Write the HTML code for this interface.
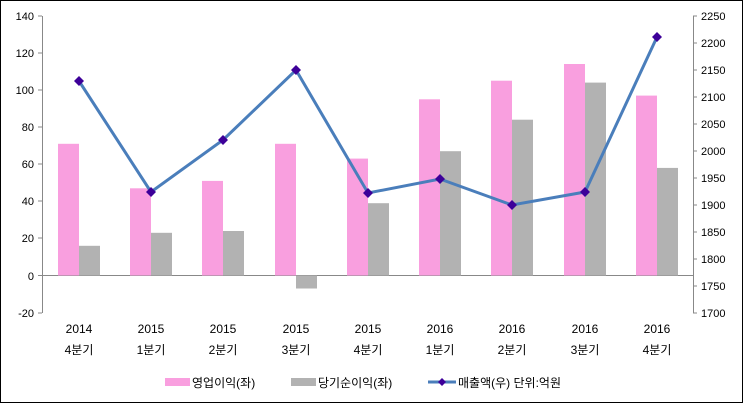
<!DOCTYPE html>
<html><head><meta charset="utf-8"><style>
body{margin:0;background:#fff}
svg{display:block;font-family:"Liberation Sans","Noto Sans CJK KR",sans-serif}
</style></head><body>
<svg width="743" height="403" xmlns="http://www.w3.org/2000/svg">
<rect x="0.5" y="0.5" width="742" height="402" fill="#fff" stroke="#000"/>
<g font-size="11" fill="#000">
<line x1="42.5" y1="16" x2="42.5" y2="313" stroke="#888"/>
<line x1="693.5" y1="16" x2="693.5" y2="313" stroke="#888"/>
<line x1="42" y1="275.5" x2="693" y2="275.5" stroke="#888"/>
<g text-anchor="end">
<text x="34" y="20">140</text><text x="34" y="57">120</text><text x="34" y="94">100</text>
<text x="34" y="131">80</text><text x="34" y="168">60</text><text x="34" y="205">40</text>
<text x="34" y="242">20</text><text x="34" y="280">0</text><text x="34" y="317">-20</text>
</g>
<g stroke="#888">
<line x1="38" y1="16" x2="42" y2="16"/><line x1="38" y1="53" x2="42" y2="53"/><line x1="38" y1="90" x2="42" y2="90"/><line x1="38" y1="127" x2="42" y2="127"/><line x1="38" y1="164" x2="42" y2="164"/><line x1="38" y1="201" x2="42" y2="201"/><line x1="38" y1="238" x2="42" y2="238"/><line x1="38" y1="275.5" x2="42" y2="275.5"/><line x1="38" y1="313" x2="42" y2="313"/>
<line x1="693" y1="16" x2="697" y2="16"/><line x1="693" y1="43" x2="697" y2="43"/><line x1="693" y1="70" x2="697" y2="70"/><line x1="693" y1="97" x2="697" y2="97"/><line x1="693" y1="124" x2="697" y2="124"/><line x1="693" y1="151" x2="697" y2="151"/><line x1="693" y1="178" x2="697" y2="178"/><line x1="693" y1="205" x2="697" y2="205"/><line x1="693" y1="232" x2="697" y2="232"/><line x1="693" y1="259" x2="697" y2="259"/><line x1="693" y1="286" x2="697" y2="286"/><line x1="693" y1="313" x2="697" y2="313"/>
</g>
<g text-anchor="start">
<text x="701" y="20">2250</text><text x="701" y="47">2200</text><text x="701" y="74">2150</text><text x="701" y="101">2100</text><text x="701" y="128">2050</text><text x="701" y="155">2000</text><text x="701" y="182">1950</text><text x="701" y="209">1900</text><text x="701" y="236">1850</text><text x="701" y="263">1800</text><text x="701" y="290">1750</text><text x="701" y="317">1700</text>
</g>
<!-- bars -->
<g fill="#f99fdf">
<rect x="58" y="143.8" width="21" height="131.7"/>
<rect x="130" y="188.3" width="21" height="87.2"/>
<rect x="202" y="180.9" width="21" height="94.6"/>
<rect x="275" y="143.8" width="21" height="131.7"/>
<rect x="347" y="158.6" width="21" height="116.9"/>
<rect x="419" y="99.3" width="21" height="176.2"/>
<rect x="491" y="80.7" width="21" height="194.8"/>
<rect x="564" y="64" width="21" height="211.5"/>
<rect x="636" y="95.6" width="21" height="179.9"/>
</g>
<g fill="#b2b2b2">
<rect x="79" y="245.8" width="21" height="29.7"/>
<rect x="151" y="232.8" width="21" height="42.7"/>
<rect x="223" y="231" width="21" height="44.5"/>
<rect x="296" y="275.5" width="21" height="13"/>
<rect x="368" y="203.2" width="21" height="72.3"/>
<rect x="440" y="151.2" width="21" height="124.3"/>
<rect x="512" y="119.7" width="21" height="155.8"/>
<rect x="585" y="82.6" width="21" height="192.9"/>
<rect x="657" y="167.9" width="21" height="107.6"/>
</g>
<polyline fill="none" stroke="#4a7ebb" stroke-width="3" points="79,81 151,192 223,140 296,70 368,193 440,179 512,205 585,192 657,37"/>
<g fill="#3d0099">
<path d="M79,76 l5,5 -5,5 -5,-5z"/><path d="M151,187 l5,5 -5,5 -5,-5z"/><path d="M223,135 l5,5 -5,5 -5,-5z"/><path d="M296,65 l5,5 -5,5 -5,-5z"/><path d="M368,188 l5,5 -5,5 -5,-5z"/><path d="M440,174 l5,5 -5,5 -5,-5z"/><path d="M512,200 l5,5 -5,5 -5,-5z"/><path d="M585,187 l5,5 -5,5 -5,-5z"/><path d="M657,32 l5,5 -5,5 -5,-5z"/>
</g>
<g text-anchor="middle" font-size="12">
<text x="79" y="333">2014</text><text x="79" y="354">4분기</text>
<text x="151" y="333">2015</text><text x="151" y="354">1분기</text>
<text x="223" y="333">2015</text><text x="223" y="354">2분기</text>
<text x="296" y="333">2015</text><text x="296" y="354">3분기</text>
<text x="368" y="333">2015</text><text x="368" y="354">4분기</text>
<text x="440" y="333">2016</text><text x="440" y="354">1분기</text>
<text x="512" y="333">2016</text><text x="512" y="354">2분기</text>
<text x="585" y="333">2016</text><text x="585" y="354">3분기</text>
<text x="657" y="333">2016</text><text x="657" y="354">4분기</text>
</g>
<g font-size="12">
<rect x="165" y="378" width="25" height="8" fill="#f99fdf"/>
<text x="192" y="387">영업이익(좌)</text>
<rect x="291" y="378" width="25" height="8" fill="#b2b2b2"/>
<text x="318" y="387">당기순이익(좌)</text>
<line x1="428" y1="382" x2="456" y2="382" stroke="#4a7ebb" stroke-width="3"/>
<path d="M442,378 l4,4 -4,4 -4,-4z" fill="#3d0099"/>
<text x="458" y="387">매출액(우)  단위:억원</text>
</g>
</g>
</svg>
</body></html>
